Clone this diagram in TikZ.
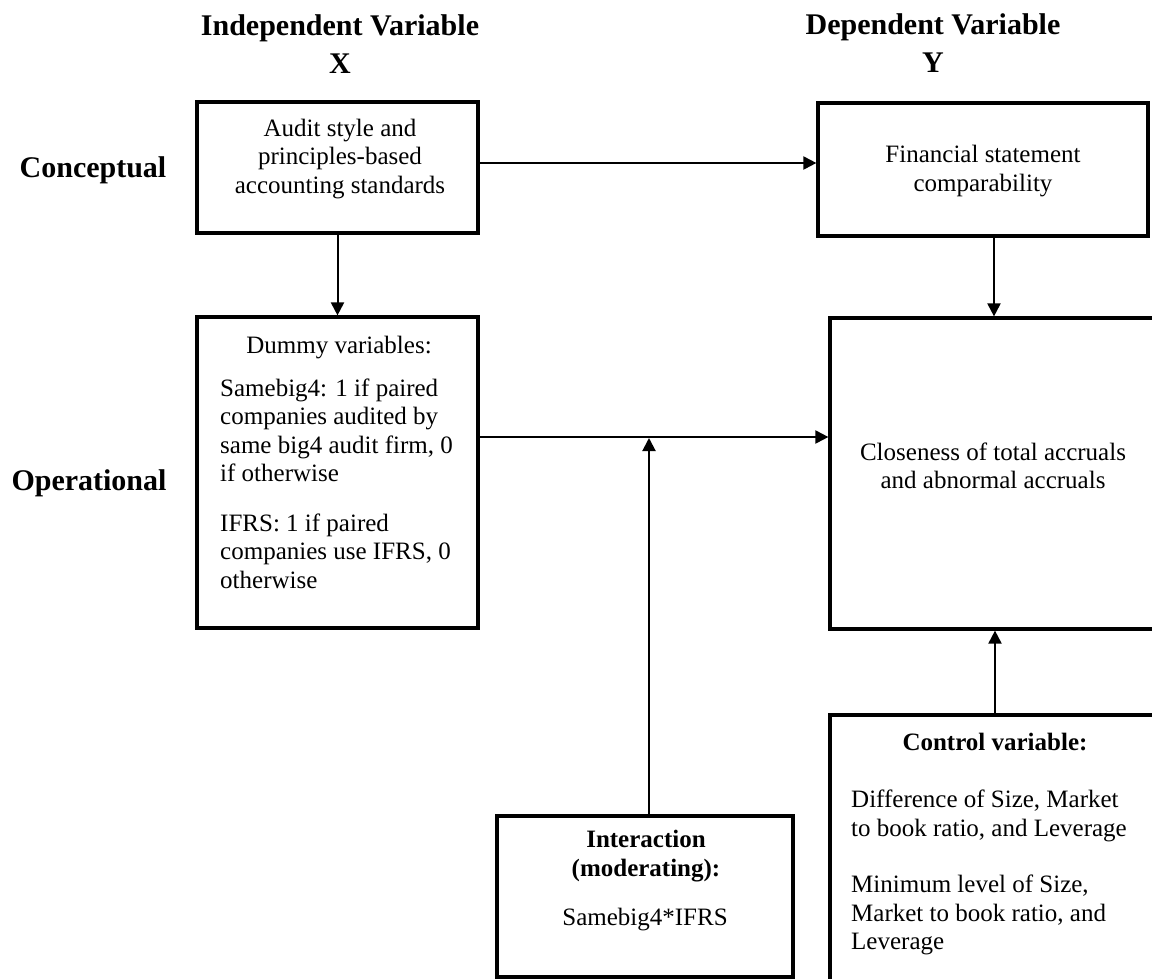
\documentclass[tikz,border=0pt]{standalone}
\usepackage{fontspec}
\setmainfont{Liberation Serif}
\usetikzlibrary{arrows.meta}
\begin{document}
\begin{tikzpicture}[x=1pt,y=-1pt,
  box/.style={draw=black, line width=3.2pt, inner sep=0pt, rectangle},
  arr/.style={line width=2pt, -{Triangle[length=13pt,width=13pt]}},
  body/.style={font=\fontsize{25}{28.5}\selectfont, inner sep=0pt},
  bbody/.style={font=\fontsize{25}{28.5}\selectfont\bfseries, inner sep=0pt},
  head/.style={font=\fontsize{30}{38}\selectfont\bfseries, inner sep=0pt, align=center},
]
\useasboundingbox (0,0) rectangle (1152,978);
\fill[white] (0,0) rectangle (1152,978);
\clip (0,0) rectangle (1152,978);

% headings
\node[head] (hx) at (340,44) {Independent Variable\\X};
\node[head] (hy) at (933,43.5) {Dependent Variable\\Y};
\node[head] (hc) at (93,170) {Conceptual};
\node[head] (ho) at (89,483) {Operational};

% boxes
\node[box, minimum width=281pt, minimum height=131pt] (A) at (337.5,167.5) {};
\node[box, minimum width=330pt, minimum height=133pt] (B) at (983,169.5) {};
\node[box, minimum width=281pt, minimum height=311pt] (C) at (337.5,472.5) {};
\node[box, minimum width=328pt, minimum height=311pt] (D) at (994,473.5) {};
\node[box, minimum width=296pt, minimum height=161pt] (E) at (645,896.5) {};
\node[box, minimum width=330pt, minimum height=285pt] (F) at (995,857.5) {};

% texts
\node[body, align=center] (ta) at (340,159) {Audit style and\\principles-based\\accounting standards};
\node[body, align=center] (tb) at (983,171) {Financial statement\\comparability};
\node[body] (tc0) at (339,348) {Dummy variables:};
\node[body, align=left, anchor=west] (tc1) at (220,430.5) {Samebig4: 1 if paired\\companies audited by\\same big4 audit firm, 0\\if otherwise};
\node[body, align=left, anchor=west] (tc2) at (220,551) {IFRS: 1 if paired\\companies use IFRS, 0\\otherwise};
\node[body, align=center] (td) at (993,466) {Closeness of total accruals\\and abnormal accruals};
\node[bbody, align=center] (te0) at (646,856) {Interaction\\(moderating):};
\node[body] (te1) at (645,920) {Samebig4*IFRS};
\node[bbody] (tf0) at (995,742) {Control variable:};
\node[body, align=left, anchor=west] (tf1) at (851,816) {Difference of Size, Market\\to book ratio, and Leverage};
\node[body, align=left, anchor=west] (tf2) at (851,915) {Minimum level of Size,\\Market to book ratio, and\\Leverage};

% connectors
\coordinate (j) at (649,437);
\draw[arr] ([yshift=4.5pt]A.east) -- ([yshift=4.5pt]A.east -| B.west);
\draw[arr] (A.south) -- (C.north);
\draw[arr] (B.south -| D.north) -- (D.north);
\draw[arr] (C.east |- j) -- (D.west |- j);
\draw[arr, shorten >=1pt] (E.north -| j) -- (j);
\draw[arr] (F.north) -- (F.north |- D.south);
\end{tikzpicture}
\end{document}
